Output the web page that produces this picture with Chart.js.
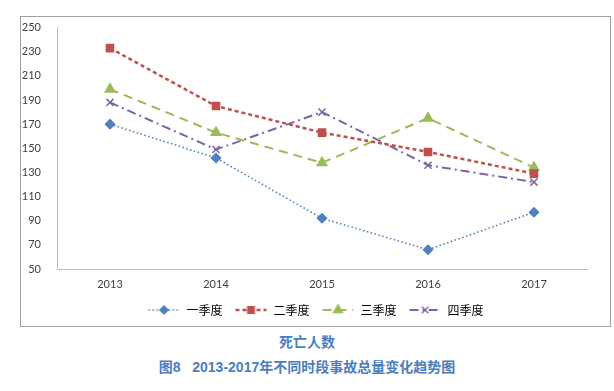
<!DOCTYPE html>
<html><head><meta charset="utf-8">
<script src="https://cdn.jsdelivr.net/npm/chart.js@4/dist/chart.umd.min.js"></script>
<style>
html,body{margin:0;padding:0;background:#fff;width:614px;height:391px;overflow:hidden;}
#box{position:absolute;left:20px;top:16px;width:591px;height:311px;box-sizing:border-box;border:1px solid #a0a0a0;overflow:hidden;}
#box canvas{display:block;position:absolute;left:0;top:-12px;}
.t{position:absolute;left:0;width:614px;text-align:center;color:#4a7ebf;font-weight:bold;font-family:"Liberation Sans","Noto Sans CJK SC",sans-serif;font-size:14px;}
</style></head><body>
<div id="box"><canvas id="c" width="589" height="321"></canvas></div>
<div class="t" style="top:331px;font-family:'Noto Sans CJK SC',sans-serif;">死亡人数</div>
<div class="t" style="top:356px;">图8&nbsp;&nbsp;&nbsp;2013-2017年不同时段事故总量变化趋势图</div>
<script>
const categories = ["2013","2014","2015","2016","2017"];
const seriesNames = ["一季度","二季度","三季度","四季度"];
const q1 = [170,142,92,66,97];
const q2 = [233,185,163,147,129];
const q3 = [199,163,138,175,134];
const q4 = [188,149,180,136,122];
const yTicks = [50,70,90,110,130,150,170,190,210,230,250];

const styles = [
  {color:"#4F81BD", dash:[1.5,2.5], width:1.6, point:"rectRot", r:4.5},
  {color:"#C0504D", dash:[4,3], width:2.5, point:"rect", r:5},
  {color:"#9BBB59", dash:[9,6], width:2, point:"triangle", r:5.5},
  {color:"#8064A2", dash:[9,4,2,4], width:2, point:"crossRot", r:5}
];
const LW = 33;
function legendImg(s){
  const c=document.createElement('canvas'); c.width=LW; c.height=12;
  const x=c.getContext('2d');
  x.strokeStyle=s.color; x.lineWidth=s.width; x.setLineDash(s.dash);
  x.beginPath(); x.moveTo(1,6); x.lineTo(LW-1,6); x.stroke();
  x.setLineDash([]); x.fillStyle=s.color; x.lineWidth=1.5;
  Chart.helpers.drawPoint(x,{pointStyle:s.point,radius:s.r-0.5,borderWidth:1.5},LW/2,6);
  return c;
}
const allData=[q1,q2,q3,q4];
const datasets = allData.map((d,i)=>{const s=styles[i];return {
  label:seriesNames[i], data:d, borderColor:s.color, backgroundColor:s.color,
  borderDash:s.dash, borderWidth:s.width, pointStyle:s.point, pointRadius:s.r,
  pointBorderWidth:1.5, pointBackgroundColor:s.color, pointBorderColor:s.color, tension:0, fill:false
};});
const imgs = styles.map(legendImg);
new Chart(document.getElementById('c'),{
  type:'line',
  data:{labels:categories,datasets},
  options:{
    responsive:false, animation:false,
    layout:{padding:{top:0,right:0,left:0,bottom:0}},
    plugins:{
      legend:{position:'bottom',labels:{
        usePointStyle:true, pointStyleWidth:LW, padding:12,
        color:'#595959', font:{family:"'Noto Sans CJK SC'",size:12},
        generateLabels:(ch)=>ch.data.datasets.map((ds,i)=>({text:ds.label,pointStyle:imgs[i],fillStyle:ds.borderColor,strokeStyle:ds.borderColor,lineWidth:0,datasetIndex:i,hidden:false}))
      }},
      tooltip:{enabled:false}
    },
    scales:{
      x:{offset:true,grid:{display:false,drawTicks:false},border:{color:'#bfbfbf'},
        afterFit:(s)=>{s.height=23;},
        ticks:{color:'#404040',font:{family:'Lato',size:11},padding:9}},
      y:{min:50,max:250,grid:{display:false,drawTicks:false},border:{color:'#bfbfbf'},
        afterFit:(s)=>{s.width=36;},
        afterBuildTicks:(s)=>{s.ticks=yTicks.map(v=>({value:v}));},
        ticks:{color:'#404040',font:{family:'Lato',size:11},padding:16}},
      yr:{position:'right',min:50,max:250,grid:{display:false,drawTicks:false},border:{display:false},
        afterFit:(s)=>{s.width=23;},
        ticks:{display:false,padding:0}}
    }
  }
});
</script>
</body></html>
